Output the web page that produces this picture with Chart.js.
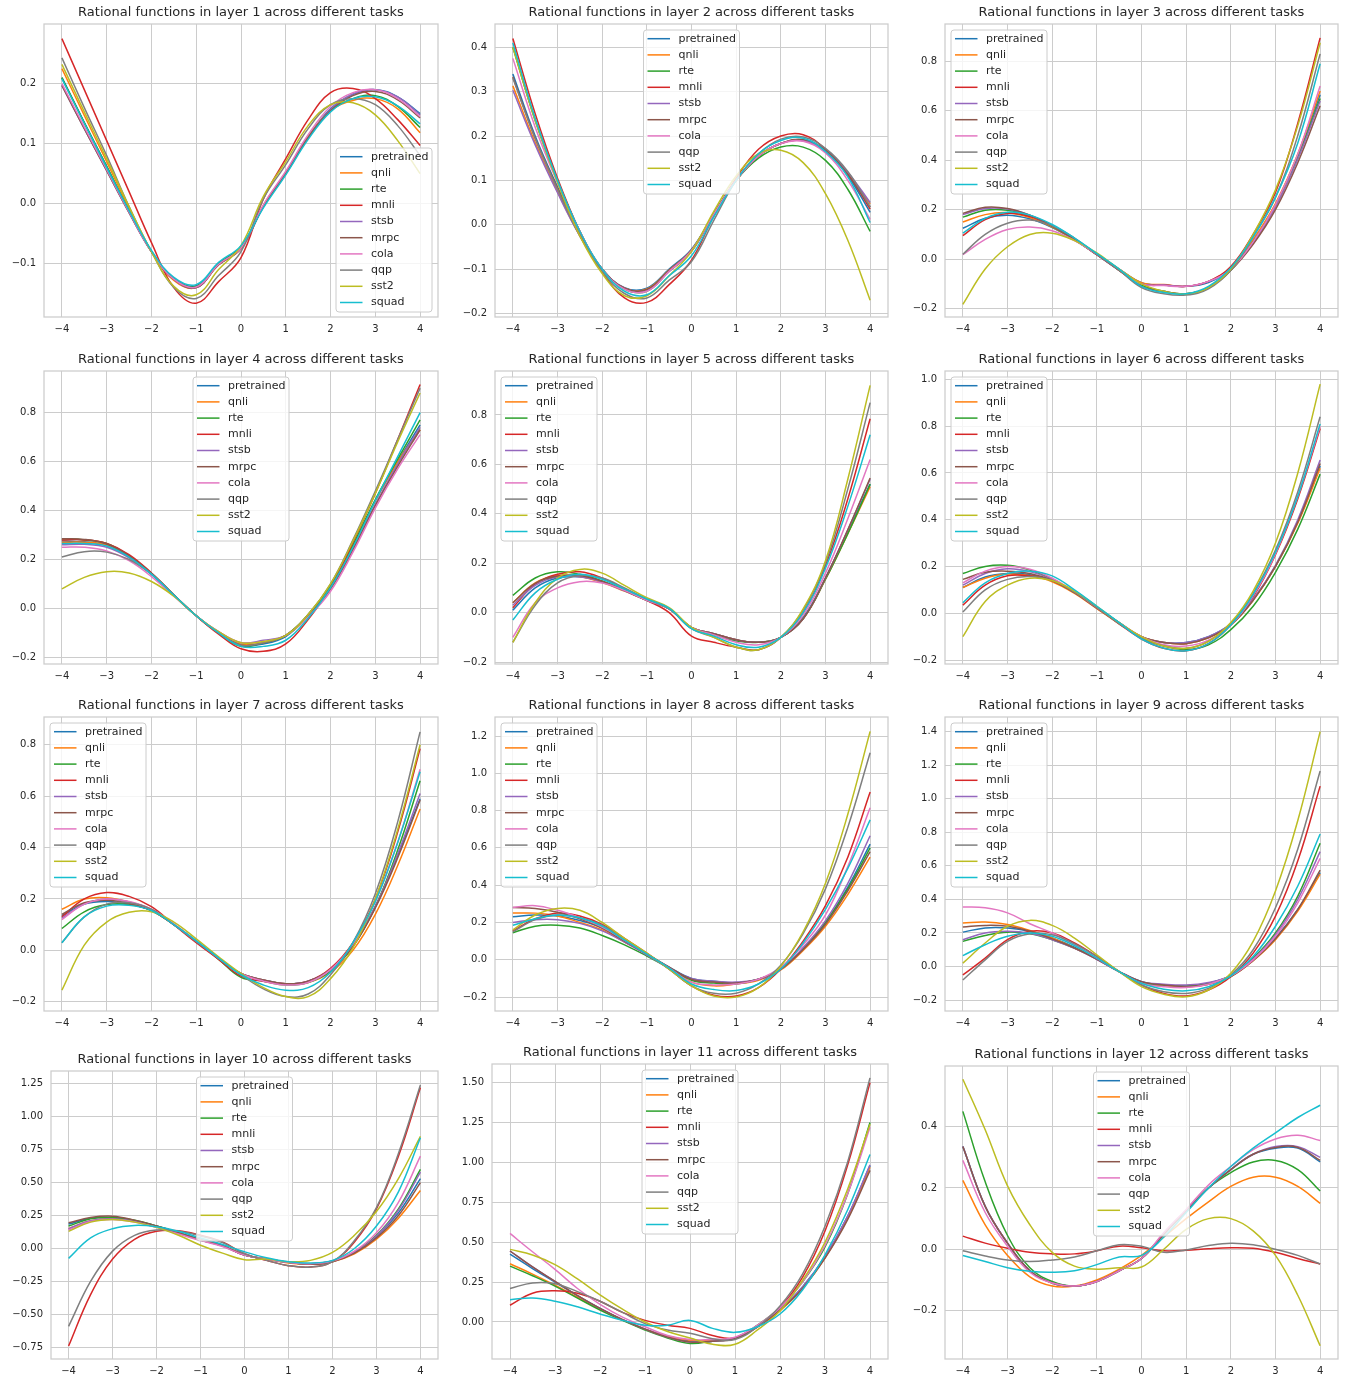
<!DOCTYPE html>
<html>
<head>
<meta charset="utf-8">
<title>Rational functions across tasks</title>
<script src="https://cdn.jsdelivr.net/npm/chart.js@4.4.1/dist/chart.umd.min.js"></script>
<style>
  html, body { margin: 0; padding: 0; background: #ffffff; }
  body { width: 1345px; height: 1378px; position: relative; overflow: hidden; }
  canvas { position: absolute; }
</style>
</head>
<body>
<script>
// sample points on the x axis (shared by every layer)
const xs = [-4, -3.5, -3, -2.5, -2, -1.5, -1, -0.5, 0, 0.5, 1, 1.5, 2, 2.5, 3, 3.5, 4];
const xTicks = [-4, -3, -2, -1, 0, 1, 2, 3, 4];

const tasks = ['pretrained', 'qnli', 'rte', 'mnli', 'stsb', 'mrpc', 'cola', 'qqp', 'sst2', 'squad'];
const colors = ['#1f77b4', '#ff7f0e', '#2ca02c', '#d62728', '#9467bd',
                '#8c564b', '#e377c2', '#7f7f7f', '#bcbd22', '#17becf'];

// one row per task (same order as `tasks`), values read at xs
const layer1 = [
  [0.21, 0.135, 0.062, -0.012, -0.08, -0.125, -0.137, -0.1, -0.072, -0.005, 0.05, 0.11, 0.158, 0.182, 0.19, 0.178, 0.15],
  [0.225, 0.147, 0.07, -0.008, -0.08, -0.128, -0.14, -0.102, -0.075, -0.003, 0.052, 0.112, 0.155, 0.172, 0.175, 0.158, 0.118],
  [0.21, 0.135, 0.062, -0.012, -0.08, -0.126, -0.138, -0.1, -0.072, -0.005, 0.05, 0.11, 0.155, 0.175, 0.18, 0.162, 0.127],
  [0.275, 0.19, 0.105, 0.02, -0.065, -0.14, -0.166, -0.13, -0.09, 0.008, 0.075, 0.14, 0.185, 0.192, 0.175, 0.14, 0.097],
  [0.197, 0.125, 0.055, -0.015, -0.08, -0.126, -0.14, -0.102, -0.075, -0.005, 0.05, 0.11, 0.157, 0.183, 0.19, 0.178, 0.148],
  [0.197, 0.125, 0.055, -0.015, -0.08, -0.126, -0.14, -0.102, -0.075, -0.005, 0.05, 0.11, 0.155, 0.18, 0.187, 0.173, 0.143],
  [0.2, 0.128, 0.057, -0.014, -0.08, -0.126, -0.139, -0.101, -0.074, -0.002, 0.054, 0.115, 0.162, 0.185, 0.19, 0.175, 0.145],
  [0.243, 0.16, 0.08, -0.005, -0.08, -0.14, -0.158, -0.12, -0.08, 0.008, 0.065, 0.125, 0.165, 0.175, 0.165, 0.13, 0.08],
  [0.232, 0.153, 0.075, -0.005, -0.08, -0.138, -0.152, -0.11, -0.07, 0.012, 0.07, 0.13, 0.165, 0.168, 0.148, 0.105, 0.05],
  [0.208, 0.134, 0.06, -0.012, -0.078, -0.123, -0.135, -0.098, -0.07, -0.007, 0.048, 0.107, 0.153, 0.175, 0.178, 0.163, 0.133]
];
const layer2 = [
  [0.34, 0.2, 0.085, -0.02, -0.1, -0.142, -0.143, -0.1, -0.055, 0.025, 0.1, 0.155, 0.183, 0.19, 0.165, 0.11, 0.028],
  [0.313, 0.185, 0.075, -0.025, -0.1, -0.143, -0.145, -0.102, -0.058, 0.025, 0.1, 0.155, 0.183, 0.19, 0.168, 0.115, 0.047],
  [0.4, 0.235, 0.1, -0.015, -0.1, -0.145, -0.15, -0.105, -0.06, 0.025, 0.1, 0.15, 0.175, 0.175, 0.145, 0.08, -0.015],
  [0.42, 0.25, 0.105, -0.015, -0.105, -0.165, -0.175, -0.135, -0.08, 0.02, 0.105, 0.17, 0.2, 0.203, 0.17, 0.115, 0.035],
  [0.303, 0.18, 0.072, -0.025, -0.1, -0.143, -0.147, -0.105, -0.06, 0.022, 0.1, 0.155, 0.183, 0.19, 0.168, 0.118, 0.05],
  [0.333, 0.195, 0.083, -0.02, -0.1, -0.143, -0.146, -0.103, -0.057, 0.024, 0.1, 0.155, 0.183, 0.192, 0.168, 0.113, 0.04],
  [0.375, 0.22, 0.095, -0.015, -0.1, -0.145, -0.15, -0.105, -0.058, 0.024, 0.1, 0.155, 0.183, 0.188, 0.162, 0.1, 0.012],
  [0.33, 0.195, 0.08, -0.025, -0.105, -0.155, -0.165, -0.125, -0.083, 0.01, 0.1, 0.16, 0.193, 0.198, 0.172, 0.12, 0.04],
  [0.4, 0.235, 0.095, -0.025, -0.11, -0.16, -0.16, -0.115, -0.06, 0.03, 0.11, 0.16, 0.168, 0.14, 0.07, -0.035, -0.17],
  [0.41, 0.24, 0.1, -0.015, -0.1, -0.15, -0.158, -0.115, -0.07, 0.018, 0.1, 0.16, 0.19, 0.195, 0.165, 0.108, 0.005]
];
const layer3 = [
  [0.125, 0.165, 0.178, 0.163, 0.128, 0.078, 0.02, -0.04, -0.095, -0.105, -0.11, -0.095, -0.04, 0.075, 0.22, 0.42, 0.665],
  [0.15, 0.18, 0.188, 0.168, 0.13, 0.078, 0.02, -0.04, -0.095, -0.103, -0.11, -0.09, -0.035, 0.08, 0.225, 0.425, 0.68],
  [0.17, 0.198, 0.198, 0.175, 0.133, 0.078, 0.018, -0.045, -0.105, -0.13, -0.14, -0.115, -0.045, 0.07, 0.215, 0.41, 0.65],
  [0.095, 0.16, 0.185, 0.172, 0.135, 0.08, 0.018, -0.045, -0.1, -0.105, -0.11, -0.09, -0.03, 0.1, 0.27, 0.55, 0.895],
  [0.18, 0.205, 0.203, 0.178, 0.135, 0.08, 0.018, -0.045, -0.1, -0.105, -0.11, -0.09, -0.04, 0.065, 0.21, 0.405, 0.64],
  [0.185, 0.21, 0.205, 0.178, 0.135, 0.08, 0.018, -0.045, -0.11, -0.13, -0.14, -0.115, -0.045, 0.06, 0.2, 0.39, 0.62],
  [0.018, 0.08, 0.12, 0.13, 0.115, 0.075, 0.02, -0.04, -0.1, -0.107, -0.11, -0.09, -0.04, 0.07, 0.22, 0.425, 0.7],
  [0.02, 0.1, 0.145, 0.158, 0.135, 0.085, 0.02, -0.045, -0.115, -0.14, -0.145, -0.12, -0.045, 0.09, 0.25, 0.5, 0.83],
  [-0.183, -0.04, 0.05, 0.1, 0.105, 0.075, 0.025, -0.04, -0.1, -0.13, -0.14, -0.115, -0.04, 0.1, 0.28, 0.54, 0.875],
  [0.105, 0.165, 0.19, 0.178, 0.14, 0.085, 0.022, -0.04, -0.11, -0.135, -0.14, -0.11, -0.035, 0.09, 0.25, 0.47, 0.79]
];
const layer4 = [
  [0.275, 0.272, 0.258, 0.21, 0.14, 0.055, -0.03, -0.1, -0.15, -0.145, -0.115, -0.03, 0.085, 0.25, 0.44, 0.6, 0.75],
  [0.27, 0.27, 0.258, 0.212, 0.142, 0.055, -0.03, -0.1, -0.145, -0.14, -0.11, -0.025, 0.09, 0.25, 0.44, 0.6, 0.73],
  [0.285, 0.28, 0.265, 0.215, 0.143, 0.055, -0.03, -0.1, -0.155, -0.14, -0.11, -0.025, 0.095, 0.26, 0.445, 0.61, 0.77],
  [0.28, 0.28, 0.265, 0.22, 0.145, 0.055, -0.03, -0.105, -0.165, -0.175, -0.145, -0.045, 0.085, 0.27, 0.47, 0.69, 0.915],
  [0.26, 0.262, 0.25, 0.207, 0.14, 0.055, -0.03, -0.095, -0.14, -0.13, -0.11, -0.03, 0.08, 0.24, 0.425, 0.59, 0.74],
  [0.285, 0.282, 0.263, 0.215, 0.143, 0.055, -0.03, -0.1, -0.15, -0.14, -0.11, -0.03, 0.08, 0.24, 0.42, 0.58, 0.73],
  [0.25, 0.25, 0.235, 0.195, 0.13, 0.05, -0.03, -0.095, -0.14, -0.135, -0.11, -0.035, 0.07, 0.23, 0.41, 0.57, 0.71],
  [0.21, 0.232, 0.23, 0.2, 0.14, 0.055, -0.03, -0.1, -0.15, -0.14, -0.11, -0.025, 0.1, 0.28, 0.48, 0.69, 0.9],
  [0.08, 0.127, 0.15, 0.145, 0.11, 0.05, -0.03, -0.095, -0.14, -0.135, -0.11, -0.025, 0.1, 0.275, 0.47, 0.68, 0.88],
  [0.265, 0.265, 0.255, 0.21, 0.14, 0.055, -0.03, -0.1, -0.155, -0.155, -0.13, -0.04, 0.085, 0.25, 0.44, 0.62, 0.8]
];
const layer5 = [
  [0.01, 0.1, 0.14, 0.145, 0.125, 0.09, 0.05, 0.015, -0.06, -0.085, -0.11, -0.12, -0.1, -0.02, 0.14, 0.33, 0.52],
  [0.04, 0.12, 0.15, 0.145, 0.122, 0.087, 0.05, 0.015, -0.06, -0.085, -0.11, -0.12, -0.1, -0.025, 0.135, 0.32, 0.51],
  [0.07, 0.14, 0.165, 0.155, 0.128, 0.09, 0.05, 0.015, -0.06, -0.09, -0.115, -0.12, -0.1, -0.025, 0.135, 0.32, 0.52],
  [0.02, 0.115, 0.155, 0.165, 0.14, 0.095, 0.05, 0.0, -0.095, -0.12, -0.14, -0.15, -0.1, 0.0, 0.19, 0.46, 0.785],
  [0.03, 0.11, 0.145, 0.145, 0.124, 0.088, 0.05, 0.015, -0.06, -0.085, -0.11, -0.12, -0.1, -0.025, 0.14, 0.335, 0.54],
  [0.04, 0.118, 0.148, 0.15, 0.127, 0.09, 0.05, 0.015, -0.06, -0.085, -0.11, -0.12, -0.1, -0.025, 0.14, 0.335, 0.545],
  [-0.1, 0.04, 0.1, 0.125, 0.12, 0.09, 0.05, 0.015, -0.06, -0.09, -0.12, -0.13, -0.1, -0.01, 0.16, 0.38, 0.62],
  [-0.12, 0.03, 0.12, 0.15, 0.14, 0.1, 0.055, 0.015, -0.065, -0.1, -0.14, -0.15, -0.1, 0.01, 0.2, 0.5, 0.85],
  [-0.12, 0.04, 0.14, 0.175, 0.16, 0.11, 0.06, 0.02, -0.06, -0.1, -0.14, -0.15, -0.1, 0.015, 0.21, 0.54, 0.92],
  [-0.03, 0.08, 0.135, 0.155, 0.135, 0.095, 0.055, 0.017, -0.065, -0.095, -0.13, -0.14, -0.1, 0.0, 0.18, 0.43, 0.72]
];
const layer6 = [
  [0.11, 0.155, 0.17, 0.165, 0.14, 0.09, 0.025, -0.04, -0.1, -0.125, -0.125, -0.1, -0.045, 0.06, 0.2, 0.39, 0.63],
  [0.11, 0.15, 0.168, 0.16, 0.135, 0.085, 0.02, -0.045, -0.1, -0.125, -0.13, -0.105, -0.05, 0.055, 0.2, 0.385, 0.62],
  [0.17, 0.2, 0.205, 0.185, 0.145, 0.09, 0.025, -0.04, -0.105, -0.14, -0.155, -0.135, -0.07, 0.03, 0.175, 0.36, 0.595],
  [0.035, 0.12, 0.16, 0.16, 0.14, 0.09, 0.025, -0.045, -0.11, -0.15, -0.16, -0.13, -0.05, 0.07, 0.25, 0.49, 0.79],
  [0.12, 0.17, 0.19, 0.178, 0.145, 0.09, 0.025, -0.04, -0.1, -0.125, -0.125, -0.1, -0.045, 0.06, 0.205, 0.4, 0.655],
  [0.145, 0.175, 0.18, 0.17, 0.14, 0.088, 0.022, -0.042, -0.1, -0.125, -0.13, -0.105, -0.05, 0.055, 0.2, 0.39, 0.64],
  [0.13, 0.18, 0.2, 0.188, 0.15, 0.092, 0.025, -0.04, -0.1, -0.135, -0.14, -0.115, -0.05, 0.075, 0.255, 0.5, 0.8],
  [0.005, 0.1, 0.145, 0.157, 0.14, 0.09, 0.025, -0.045, -0.105, -0.14, -0.15, -0.12, -0.045, 0.085, 0.27, 0.52, 0.84],
  [-0.1, 0.05, 0.12, 0.15, 0.14, 0.095, 0.03, -0.04, -0.1, -0.14, -0.15, -0.12, -0.04, 0.095, 0.3, 0.6, 0.98],
  [0.045, 0.13, 0.17, 0.18, 0.16, 0.1, 0.03, -0.04, -0.11, -0.15, -0.16, -0.13, -0.05, 0.08, 0.26, 0.5, 0.81]
];
const layer7 = [
  [0.135, 0.18, 0.19, 0.18, 0.155, 0.1, 0.035, -0.03, -0.09, -0.115, -0.13, -0.12, -0.075, 0.02, 0.17, 0.37, 0.59],
  [0.16, 0.2, 0.205, 0.188, 0.155, 0.1, 0.035, -0.03, -0.09, -0.115, -0.13, -0.125, -0.085, 0.0, 0.14, 0.33, 0.55],
  [0.085, 0.15, 0.178, 0.178, 0.155, 0.1, 0.035, -0.035, -0.105, -0.12, -0.135, -0.125, -0.08, 0.015, 0.17, 0.39, 0.66],
  [0.13, 0.2, 0.225, 0.21, 0.17, 0.1, 0.03, -0.035, -0.1, -0.12, -0.13, -0.12, -0.07, 0.03, 0.2, 0.46, 0.785],
  [0.125, 0.18, 0.2, 0.188, 0.158, 0.1, 0.035, -0.03, -0.09, -0.115, -0.13, -0.12, -0.075, 0.02, 0.17, 0.375, 0.61],
  [0.14, 0.185, 0.195, 0.182, 0.155, 0.1, 0.035, -0.03, -0.09, -0.115, -0.13, -0.12, -0.075, 0.015, 0.165, 0.36, 0.585],
  [0.12, 0.18, 0.2, 0.19, 0.16, 0.103, 0.037, -0.03, -0.09, -0.12, -0.135, -0.125, -0.075, 0.025, 0.19, 0.42, 0.705],
  [0.03, 0.13, 0.18, 0.185, 0.16, 0.1, 0.035, -0.03, -0.095, -0.15, -0.18, -0.17, -0.095, 0.03, 0.22, 0.5, 0.85],
  [-0.155, 0.02, 0.11, 0.148, 0.15, 0.11, 0.045, -0.025, -0.09, -0.145, -0.18, -0.18, -0.11, 0.01, 0.2, 0.47, 0.8],
  [0.03, 0.13, 0.172, 0.175, 0.155, 0.1, 0.037, -0.03, -0.095, -0.135, -0.155, -0.145, -0.085, 0.03, 0.19, 0.42, 0.695]
];
const layer8 = [
  [0.23, 0.24, 0.235, 0.21, 0.17, 0.1, 0.03, -0.04, -0.1, -0.115, -0.125, -0.105, -0.05, 0.06, 0.2, 0.39, 0.62],
  [0.25, 0.25, 0.235, 0.2, 0.16, 0.095, 0.03, -0.045, -0.12, -0.14, -0.13, -0.11, -0.055, 0.05, 0.18, 0.35, 0.55],
  [0.145, 0.18, 0.185, 0.17, 0.13, 0.08, 0.02, -0.045, -0.11, -0.125, -0.13, -0.105, -0.05, 0.06, 0.2, 0.38, 0.6],
  [0.155, 0.22, 0.25, 0.235, 0.19, 0.115, 0.035, -0.05, -0.14, -0.19, -0.195, -0.15, -0.05, 0.1, 0.29, 0.55, 0.9],
  [0.2, 0.215, 0.215, 0.195, 0.155, 0.095, 0.025, -0.045, -0.1, -0.115, -0.12, -0.105, -0.05, 0.065, 0.21, 0.41, 0.665],
  [0.28, 0.275, 0.255, 0.22, 0.17, 0.1, 0.03, -0.04, -0.105, -0.12, -0.125, -0.105, -0.05, 0.055, 0.19, 0.37, 0.58],
  [0.28, 0.29, 0.265, 0.225, 0.175, 0.105, 0.03, -0.045, -0.12, -0.135, -0.13, -0.105, -0.04, 0.08, 0.24, 0.5, 0.815],
  [0.15, 0.215, 0.24, 0.225, 0.185, 0.11, 0.03, -0.05, -0.14, -0.18, -0.18, -0.13, -0.03, 0.14, 0.38, 0.71, 1.11],
  [0.16, 0.24, 0.275, 0.265, 0.2, 0.115, 0.035, -0.05, -0.14, -0.195, -0.2, -0.15, -0.035, 0.15, 0.41, 0.78, 1.225],
  [0.185, 0.22, 0.24, 0.225, 0.18, 0.105, 0.03, -0.045, -0.13, -0.16, -0.165, -0.13, -0.05, 0.09, 0.27, 0.49, 0.75]
];
const layer9 = [
  [0.205, 0.23, 0.23, 0.21, 0.17, 0.115, 0.045, -0.03, -0.09, -0.11, -0.115, -0.1, -0.055, 0.04, 0.17, 0.34, 0.56],
  [0.26, 0.265, 0.25, 0.215, 0.17, 0.11, 0.045, -0.03, -0.095, -0.115, -0.12, -0.105, -0.06, 0.035, 0.16, 0.33, 0.55],
  [0.15, 0.185, 0.205, 0.195, 0.16, 0.11, 0.045, -0.03, -0.095, -0.11, -0.115, -0.1, -0.055, 0.05, 0.2, 0.42, 0.735],
  [-0.05, 0.05, 0.16, 0.21, 0.2, 0.14, 0.06, -0.03, -0.11, -0.16, -0.175, -0.14, -0.06, 0.08, 0.3, 0.63, 1.075],
  [0.16, 0.2, 0.21, 0.198, 0.16, 0.108, 0.042, -0.03, -0.09, -0.105, -0.11, -0.095, -0.055, 0.045, 0.19, 0.4, 0.685],
  [0.235, 0.245, 0.24, 0.21, 0.165, 0.11, 0.045, -0.03, -0.09, -0.11, -0.12, -0.105, -0.06, 0.035, 0.165, 0.34, 0.575],
  [0.355, 0.35, 0.32, 0.255, 0.2, 0.13, 0.05, -0.03, -0.1, -0.12, -0.125, -0.105, -0.055, 0.04, 0.18, 0.38, 0.645],
  [-0.08, 0.04, 0.15, 0.195, 0.19, 0.135, 0.06, -0.03, -0.11, -0.15, -0.16, -0.13, -0.05, 0.1, 0.35, 0.7, 1.165],
  [0.02, 0.14, 0.24, 0.275, 0.245, 0.17, 0.07, -0.03, -0.12, -0.165, -0.18, -0.14, -0.04, 0.15, 0.45, 0.87, 1.4],
  [0.065, 0.13, 0.18, 0.2, 0.18, 0.125, 0.05, -0.03, -0.1, -0.135, -0.145, -0.12, -0.055, 0.06, 0.24, 0.48, 0.79]
];
const layer10 = [
  [0.185, 0.23, 0.235, 0.21, 0.17, 0.12, 0.07, 0.02, -0.05, -0.08, -0.105, -0.12, -0.1, -0.03, 0.09, 0.27, 0.53],
  [0.15, 0.21, 0.225, 0.205, 0.165, 0.115, 0.065, 0.02, -0.05, -0.08, -0.11, -0.12, -0.1, -0.04, 0.07, 0.23, 0.44],
  [0.17, 0.225, 0.235, 0.215, 0.17, 0.12, 0.065, 0.02, -0.05, -0.08, -0.105, -0.115, -0.095, -0.025, 0.1, 0.3, 0.6],
  [-0.74, -0.35, -0.08, 0.07, 0.13, 0.135, 0.1, 0.05, -0.04, -0.09, -0.13, -0.14, -0.1, 0.05, 0.3, 0.7, 1.22],
  [0.15, 0.21, 0.225, 0.205, 0.165, 0.115, 0.065, 0.02, -0.05, -0.08, -0.105, -0.115, -0.095, -0.03, 0.095, 0.29, 0.58],
  [0.195, 0.235, 0.245, 0.215, 0.17, 0.12, 0.065, 0.02, -0.05, -0.08, -0.105, -0.12, -0.1, -0.035, 0.08, 0.25, 0.5],
  [0.14, 0.205, 0.22, 0.2, 0.16, 0.11, 0.06, 0.015, -0.05, -0.08, -0.105, -0.115, -0.095, -0.02, 0.12, 0.35, 0.7],
  [-0.59, -0.25, -0.02, 0.1, 0.14, 0.13, 0.095, 0.045, -0.04, -0.09, -0.13, -0.14, -0.1, 0.06, 0.31, 0.72, 1.24],
  [0.13, 0.2, 0.22, 0.2, 0.16, 0.1, 0.025, -0.035, -0.085, -0.08, -0.1, -0.09, -0.03, 0.1, 0.28, 0.53, 0.85],
  [-0.075, 0.08, 0.15, 0.175, 0.165, 0.13, 0.08, 0.03, -0.025, -0.07, -0.1, -0.11, -0.09, 0.0, 0.17, 0.43, 0.84]
];
const layer11 = [
  [0.425, 0.335, 0.25, 0.165, 0.085, 0.015, -0.045, -0.09, -0.12, -0.12, -0.1, -0.025, 0.08, 0.22, 0.41, 0.66, 0.98],
  [0.365, 0.3, 0.23, 0.155, 0.08, 0.015, -0.045, -0.09, -0.115, -0.115, -0.1, -0.03, 0.07, 0.21, 0.4, 0.65, 0.97],
  [0.35, 0.29, 0.225, 0.15, 0.075, 0.01, -0.05, -0.1, -0.135, -0.12, -0.1, -0.02, 0.09, 0.25, 0.47, 0.8, 1.25],
  [0.105, 0.18, 0.195, 0.18, 0.13, 0.06, 0.01, -0.02, -0.04, -0.085, -0.1, -0.03, 0.09, 0.28, 0.57, 0.98, 1.5],
  [0.445, 0.345, 0.255, 0.165, 0.085, 0.015, -0.045, -0.095, -0.125, -0.12, -0.1, -0.025, 0.08, 0.22, 0.41, 0.66, 0.985],
  [0.445, 0.345, 0.255, 0.165, 0.085, 0.015, -0.045, -0.095, -0.125, -0.12, -0.105, -0.03, 0.075, 0.21, 0.4, 0.64, 0.95],
  [0.555, 0.44, 0.33, 0.21, 0.11, 0.03, -0.03, -0.085, -0.11, -0.11, -0.095, -0.02, 0.09, 0.25, 0.48, 0.8, 1.22],
  [0.21, 0.245, 0.24, 0.19, 0.13, 0.06, -0.01, -0.05, -0.07, -0.105, -0.11, -0.03, 0.1, 0.3, 0.6, 1.0, 1.53],
  [0.455, 0.42, 0.36, 0.27, 0.17, 0.08, 0.0, -0.06, -0.1, -0.14, -0.14, -0.05, 0.07, 0.26, 0.5, 0.83, 1.24],
  [0.14, 0.15, 0.13, 0.095, 0.05, 0.01, -0.02, -0.02, 0.01, -0.04, -0.065, -0.03, 0.05, 0.2, 0.42, 0.7, 1.05]
];
const layer12 = [
  [0.335, 0.14, 0.02, -0.07, -0.11, -0.12, -0.105, -0.07, -0.03, 0.05, 0.125, 0.2, 0.26, 0.31, 0.33, 0.33, 0.285],
  [0.225, 0.08, -0.02, -0.09, -0.12, -0.12, -0.1, -0.065, -0.02, 0.04, 0.1, 0.155, 0.205, 0.235, 0.235, 0.205, 0.15],
  [0.45, 0.22, 0.045, -0.06, -0.105, -0.12, -0.105, -0.07, -0.03, 0.05, 0.125, 0.2, 0.25, 0.285, 0.29, 0.26, 0.19],
  [0.043, 0.02, 0.003, -0.01, -0.015, -0.015, -0.005, 0.01, 0.005, -0.005, -0.003, 0.002, 0.005, 0.003, -0.01, -0.03, -0.048],
  [0.335, 0.14, 0.02, -0.07, -0.11, -0.12, -0.105, -0.07, -0.03, 0.05, 0.125, 0.2, 0.26, 0.31, 0.335, 0.335, 0.3],
  [0.335, 0.14, 0.02, -0.07, -0.11, -0.12, -0.105, -0.07, -0.03, 0.05, 0.125, 0.2, 0.26, 0.31, 0.332, 0.332, 0.29],
  [0.29, 0.12, 0.01, -0.075, -0.11, -0.12, -0.105, -0.07, -0.03, 0.055, 0.13, 0.21, 0.27, 0.325, 0.36, 0.372, 0.355],
  [-0.005, -0.022, -0.035, -0.04, -0.035, -0.025, -0.005, 0.015, 0.01, -0.01, -0.002, 0.012, 0.02, 0.015, 0.0, -0.02, -0.048],
  [0.555, 0.39, 0.207, 0.08, -0.01, -0.055, -0.065, -0.06, -0.058, 0.0, 0.065, 0.1, 0.1, 0.06, -0.02, -0.15, -0.315],
  [-0.02, -0.04, -0.06, -0.072, -0.075, -0.07, -0.05, -0.025, -0.02, 0.04, 0.12, 0.2, 0.27, 0.33, 0.38, 0.43, 0.47]
];
const layers = [layer1, layer2, layer3, layer4, layer5, layer6,
                layer7, layer8, layer9, layer10, layer11, layer12];

// y axis limits and tick values per layer
const yMin = [-0.189, -0.208, -0.234, -0.227, -0.208, -0.217, -0.236, -0.275, -0.265, -0.838, -0.232, -0.358];
const yMax = [0.2994, 0.4525, 0.951, 0.970, 0.978, 1.036, 0.908, 1.302, 1.487, 1.346, 1.617, 0.598];
const yTicks = [
  [-0.1, 0, 0.1, 0.2],
  [-0.2, -0.1, 0, 0.1, 0.2, 0.3, 0.4],
  [-0.2, 0, 0.2, 0.4, 0.6, 0.8],
  [-0.2, 0, 0.2, 0.4, 0.6, 0.8],
  [-0.2, 0, 0.2, 0.4, 0.6, 0.8],
  [-0.2, 0, 0.2, 0.4, 0.6, 0.8, 1.0],
  [-0.2, 0, 0.2, 0.4, 0.6, 0.8],
  [-0.2, 0, 0.2, 0.4, 0.6, 0.8, 1.0, 1.2],
  [-0.2, 0, 0.2, 0.4, 0.6, 0.8, 1.0, 1.2, 1.4],
  [-0.75, -0.5, -0.25, 0, 0.25, 0.5, 0.75, 1.0, 1.25],
  [0, 0.25, 0.5, 0.75, 1.0, 1.25, 1.5],
  [-0.2, 0, 0.2, 0.4]
];
const yDecimals = [1, 1, 1, 1, 1, 1, 1, 1, 1, 2, 2, 1];
const legendLoc = ['lower right', 'upper center', 'upper left', 'upper center', 'upper left', 'upper left',
                   'upper left', 'upper left', 'upper left', 'upper center', 'upper center', 'upper center'];

// plot-area rectangles on the page: [left, top, right, bottom]
const plotRects = [
  [44, 24, 438, 317], [495, 24, 888, 317], [945, 24, 1338, 317],
  [44, 371, 438, 664], [495, 371, 888, 664], [945, 371, 1338, 664],
  [44, 717, 438, 1011], [495, 717, 888, 1011], [945, 717, 1338, 1011],
  [51, 1071, 438, 1359], [492, 1064, 888, 1359], [945, 1066, 1338, 1359]
];

const FONT = '"DejaVu Sans", "Liberation Sans", sans-serif';
const INK = '#262626';
const GRID = '#cccccc';
const SIDE = 54;     // room either side of the plot (y labels live in the left one)
const TITLE_H = 24;
const XAXIS_H = 20;

function fmt(v, dec) {
  const s = Math.abs(v).toFixed(dec);
  return (v < -1e-9 ? '\u2212' : '') + s;
}

// axes frame + matplotlib-like legend box drawn inside the plot area
const frameLegend = {
  id: 'frameLegend',
  beforeDatasetsDraw(chart) {
    const { ctx, chartArea: a } = chart;
    ctx.save();
    ctx.strokeStyle = GRID;
    ctx.lineWidth = 1.25;
    ctx.strokeRect(a.left, a.top, a.right - a.left, a.bottom - a.top);
    ctx.restore();
  },
  afterDatasetsDraw(chart, args, opts) {
    const { ctx, chartArea: a } = chart;
    const w = 96, h = 164, rowH = 16.2;
    let x, y;
    if (opts.loc === 'upper left') {
      x = a.left + 6; y = a.top + 6;
    } else if (opts.loc === 'upper center') {
      x = (a.left + a.right) / 2 - w / 2; y = a.top + 6;
    } else {
      x = a.right - 6 - w; y = a.bottom - 5 - h;
    }
    ctx.save();
    ctx.beginPath();
    ctx.roundRect(x, y, w, h, 3);
    ctx.fillStyle = 'rgba(255,255,255,0.8)';
    ctx.fill();
    ctx.strokeStyle = GRID;
    ctx.lineWidth = 1;
    ctx.stroke();
    ctx.font = '11px ' + FONT;
    ctx.textBaseline = 'middle';
    chart.data.datasets.forEach((ds, k) => {
      const yy = y + 8.7 + k * rowH;
      ctx.strokeStyle = ds.borderColor;
      ctx.lineWidth = 1.5;
      ctx.beginPath();
      ctx.moveTo(x + 4, yy);
      ctx.lineTo(x + 26.5, yy);
      ctx.stroke();
      ctx.fillStyle = INK;
      ctx.fillText(ds.label, x + 35, yy);
    });
    ctx.restore();
  }
};

layers.forEach((rows, i) => {
  const [l, t, r, b] = plotRects[i];
  const canvas = document.createElement('canvas');
  canvas.width = (r - l) + 2 * SIDE;
  canvas.height = TITLE_H + (b - t) + XAXIS_H;
  canvas.style.left = (l - SIDE) + 'px';
  canvas.style.top = (t - TITLE_H) + 'px';
  document.body.appendChild(canvas);

  new Chart(canvas, {
    type: 'line',
    data: {
      datasets: tasks.map((name, k) => ({
        label: name,
        data: xs.map((x, j) => ({ x: x, y: rows[k][j] })),
        borderColor: colors[k],
        backgroundColor: colors[k],
        borderWidth: 1.5,
        pointRadius: 0,
        tension: 0.4,
        fill: false,
        order: tasks.length - k
      }))
    },
    options: {
      responsive: false,
      animation: false,
      events: [],
      layout: { padding: 0 },
      scales: {
        x: {
          type: 'linear',
          min: -4.4,
          max: 4.4,
          afterFit: s => { s.height = XAXIS_H; },
          afterBuildTicks: s => {
            s.min = -4.4; s.max = 4.4;
            s.ticks = xTicks.map(v => ({ value: v }));
          },
          ticks: {
            padding: 6, color: INK, autoSkip: false, maxRotation: 0,
            font: { family: FONT, size: 10 },
            callback: v => fmt(v, 0)
          },
          grid: { color: GRID, lineWidth: 1, drawTicks: false },
          border: { display: false }
        },
        y: {
          type: 'linear',
          min: yMin[i],
          max: yMax[i],
          afterFit: s => { s.width = SIDE; },
          afterBuildTicks: s => {
            s.min = yMin[i]; s.max = yMax[i];
            s.ticks = yTicks[i].map(v => ({ value: v }));
          },
          ticks: {
            padding: 8, color: INK, autoSkip: false,
            font: { family: FONT, size: 10 },
            callback: v => fmt(v, yDecimals[i])
          },
          grid: { color: GRID, lineWidth: 1, drawTicks: false },
          border: { display: false }
        },
        // empty mirror axis on the right so the title stays centred over the plot
        yPad: {
          type: 'linear',
          position: 'right',
          min: 0,
          max: 1,
          afterFit: s => { s.width = SIDE; },
          ticks: { display: false },
          grid: { display: false, drawTicks: false },
          border: { display: false }
        }
      },
      plugins: {
        legend: { display: false },
        tooltip: { enabled: false },
        title: {
          display: true,
          text: `Rational functions in layer ${i + 1} across different tasks`,
          color: INK,
          font: { family: FONT, size: 13, weight: 'normal', lineHeight: '16px' },
          padding: { top: 5, bottom: 3 }
        },
        frameLegend: { loc: legendLoc[i] }
      }
    },
    plugins: [frameLegend]
  });
});
</script>
</body>
</html>
